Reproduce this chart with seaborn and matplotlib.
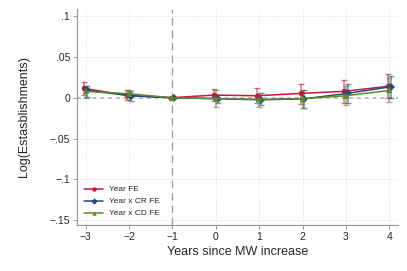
import matplotlib
matplotlib.use('Agg')
import seaborn as sns
import pandas as pd
import matplotlib.pyplot as plt

years = [-3, -2, -1, 0, 1, 2, 3, 4]
specs = ["Year FE", "Year x CR FE", "Year x CD FE"]

coef_year = [0.0115, 0.0030, 0.0, 0.0033, 0.0025, 0.0054, 0.0079, 0.0140]
lo_year = [0.0037, -0.0030, 0.0, -0.0040, -0.0060, -0.0074, -0.0060, 0.0000]
hi_year = [0.0190, 0.0090, 0.0, 0.0104, 0.0116, 0.0165, 0.0215, 0.0296]

coef_cr = [0.0090, 0.0025, 0.0, -0.0012, -0.0025, -0.0012, 0.0054, 0.0136]
lo_cr = [0.0007, -0.0035, 0.0, -0.0070, -0.0094, -0.0123, -0.0070, -0.0008]
hi_cr = [0.0150, 0.0085, 0.0, 0.0040, 0.0054, 0.0090, 0.0173, 0.0268]

coef_cd = [0.0078, 0.0050, 0.0, -0.0010, -0.0020, -0.0010, 0.0025, 0.0090]
lo_cd = [0.0000, -0.0010, 0.0, -0.0110, -0.0110, -0.0120, -0.0094, -0.0050]
hi_cd = [0.0150, 0.0100, 0.0, 0.0100, 0.0060, 0.0090, 0.0144, 0.0240]

colors = {"Year FE": "#c8163f", "Year x CR FE": "#1f4e79", "Year x CD FE": "#5a8a2c"}
markers = {"Year FE": "o", "Year x CR FE": "D", "Year x CD FE": "^"}
shift = {"Year FE": -0.04, "Year x CR FE": 0.04, "Year x CD FE": 0.0}

rows = []
for s, c, lo, hi in [(specs[0], coef_year, lo_year, hi_year),
                     (specs[1], coef_cr, lo_cr, hi_cr),
                     (specs[2], coef_cd, lo_cd, hi_cd)]:
    for y, b, l, h in zip(years, c, lo, hi):
        rows.append({"spec": s, "year": y, "coef": b, "lo": l, "hi": h})
data = pd.DataFrame(rows)
data["x"] = data["year"] + data["spec"].map(shift)

sns.set_style("white")
plt.rcParams['font.family'] = ['Liberation Sans', 'DejaVu Sans']

fig = plt.figure(figsize=(4.07, 2.71), dpi=100)
ax = fig.add_axes([0.189, 0.170, 0.789, 0.797])

for s in specs:
    d = data[data.spec == s]
    ax.errorbar(d.x, d.coef, yerr=[d.coef - d.lo, d.hi - d.coef], fmt="none",
                ecolor=colors[s], alpha=0.6, elinewidth=1.1, capsize=2.2, capthick=1.0, zorder=3)

sns.lineplot(data=data, x="x", y="coef", hue="spec", style="spec", hue_order=specs,
             style_order=specs, palette=colors, markers=markers, dashes=False,
             markersize=4, markeredgewidth=0, linewidth=1.1, ax=ax, zorder=4, sort=True)

ax.axvline(-1, color="#999999", linestyle=(0, (6, 4)), linewidth=0.9, zorder=1)
ax.axhline(0, color="#bbbbbb", linestyle=(0, (2, 2)), linewidth=1.4, zorder=1)

ax.set_xlim(-3.2, 4.2)
ax.set_ylim(-0.156, 0.109)
ax.set_xticks(years)
ax.set_xticklabels(["\u22123", "\u22122", "\u22121", "0", "1", "2", "3", "4"])
yt = [0.1, 0.05, 0, -0.05, -0.1, -0.15]
ax.set_yticks(yt)
ax.set_yticklabels([".1", ".05", "0", "\u2212.05", "\u2212.1", "\u2212.15"])
ax.grid(True, color="#dddddd", linestyle=(0, (1, 1.5)), linewidth=0.7)
ax.tick_params(axis="both", length=3, width=0.7, color="#999999", labelsize=7.5, pad=2, left=True, bottom=True)
for side in ["top", "right"]:
    ax.spines[side].set_visible(False)
for side in ["left", "bottom"]:
    ax.spines[side].set_color("#999999")
    ax.spines[side].set_linewidth(0.9)

ax.set_xlabel("Years since MW increase", fontsize=9, labelpad=3)
ax.set_ylabel("Log(Estasblishments)", fontsize=9, labelpad=14)

ax.legend(loc="lower left", frameon=False, fontsize=6, handlelength=2.2,
          labelspacing=0.5, borderaxespad=0.5, markerscale=0.8)

plt.savefig("out.png", dpi=100)
